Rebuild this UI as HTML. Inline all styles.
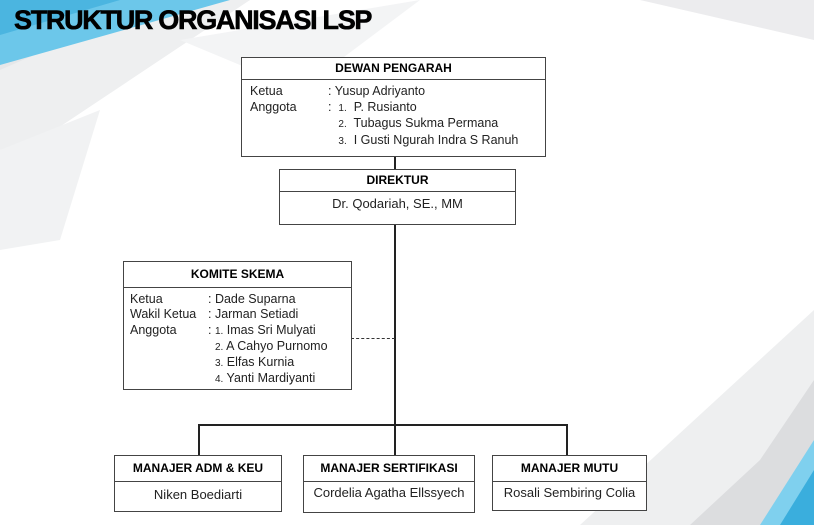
<!DOCTYPE html>
<html><head><meta charset="utf-8"><style>
body{margin:0;width:814px;height:525px;overflow:hidden;background:#fff;font-family:"Liberation Sans",sans-serif;position:relative}
.bg{position:absolute;left:0;top:0}
.t{position:absolute;left:14px;top:5px;font-size:27px;font-weight:bold;letter-spacing:-1.3px;color:#000;-webkit-text-stroke:0.6px #000}
.b{position:absolute;border:1.3px solid #444;background:#fff;box-sizing:border-box}
.h{font-weight:bold;font-size:12px;text-align:center;border-bottom:1.3px solid #444;box-sizing:border-box}
.s{font-size:13px;color:#222;text-align:center}
.l{position:absolute;background:#222}
.r{position:absolute;font-size:12.5px;color:#222;white-space:nowrap}
</style></head><body>
<svg class="bg" width="814" height="525">
<polygon points="0,0 250,0 0,80" fill="#e6e7e9"/>
<polygon points="0,70 160,0 250,0 40,140 0,150" fill="#eeeff0"/>
<polygon points="0,0 230,0 0,65" fill="#6cc7ea"/>
<polygon points="0,0 120,0 0,35" fill="#4bb5e0"/>
<polygon points="0,150 100,110 60,240 0,250" fill="#f1f2f3"/>
<polygon points="180,40 420,0 300,90" fill="#f3f4f5"/>
<polygon points="640,0 814,0 814,40" fill="#ececee"/>
<polygon points="814,310 814,525 580,525" fill="#eeeff0"/>
<polygon points="814,380 814,525 690,525 760,460" fill="#dcdddf"/>
<polygon points="814,440 814,525 760,525" fill="#7fd0ee"/>
<polygon points="814,470 814,525 780,525" fill="#3aaedd"/>
</svg>
<div class="t">STRUKTUR ORGANISASI LSP</div>

<div class="l" style="left:394px;top:156px;width:1.5px;height:300px"></div>
<div class="l" style="left:198px;top:424px;width:370px;height:1.5px"></div>
<div class="l" style="left:198px;top:424px;width:1.5px;height:32px"></div>
<div class="l" style="left:566px;top:424px;width:1.5px;height:32px"></div>
<div style="position:absolute;left:351px;top:338px;width:44px;border-top:1.3px dashed #333"></div>

<div class="b" style="left:241px;top:57px;width:305px;height:100px">
<div class="h" style="height:22px;line-height:21px">DEWAN PENGARAH</div></div>
<div class="r" style="left:250px;top:84px;line-height:15.5px">Ketua<br>Anggota</div>
<div class="r" style="left:328px;top:84px;line-height:15.5px">: Yusup Adriyanto<br>: &nbsp;<span style="font-size:10px">1.</span>&nbsp; P. Rusianto<br>&nbsp;&nbsp;&nbsp;<span style="font-size:10px">2.</span>&nbsp; Tubagus Sukma Permana<br>&nbsp;&nbsp;&nbsp;<span style="font-size:10px">3.</span>&nbsp; I Gusti Ngurah Indra S Ranuh</div>

<div class="b" style="left:279px;top:169px;width:237px;height:56px">
<div class="h" style="height:22px;line-height:21px">DIREKTUR</div>
<div class="s" style="margin-top:4px">Dr. Qodariah, SE., MM</div></div>

<div class="b" style="left:123px;top:261px;width:229px;height:129px">
<div class="h" style="height:26px;line-height:25px">KOMITE SKEMA</div></div>
<div class="r" style="left:130px;top:292px;line-height:15.3px">Ketua<br>Wakil Ketua<br>Anggota</div>
<div class="r" style="left:208px;top:292px;line-height:15.3px">: Dade Suparna<br>: Jarman Setiadi<br>: <span style="font-size:10px">1.</span> Imas Sri Mulyati<br>&nbsp;&nbsp;<span style="font-size:10px">2.</span> A Cahyo Purnomo<br>&nbsp;&nbsp;<span style="font-size:10px">3.</span> Elfas Kurnia<br>&nbsp;&nbsp;<span style="font-size:10px">4.</span> Yanti Mardiyanti</div>

<div class="b" style="left:114px;top:455px;width:168px;height:57px">
<div class="h" style="height:26px;line-height:24px">MANAJER ADM &amp; KEU</div>
<div class="s" style="margin-top:5px">Niken Boediarti</div></div>
<div class="b" style="left:303px;top:455px;width:172px;height:58px">
<div class="h" style="height:26px;line-height:24px">MANAJER SERTIFIKASI</div>
<div class="s" style="margin-top:3px">Cordelia Agatha Ellssyech</div></div>
<div class="b" style="left:492px;top:455px;width:155px;height:56px">
<div class="h" style="height:26px;line-height:24px">MANAJER MUTU</div>
<div class="s" style="margin-top:3px">Rosali Sembiring Colia</div></div>
</body></html>
